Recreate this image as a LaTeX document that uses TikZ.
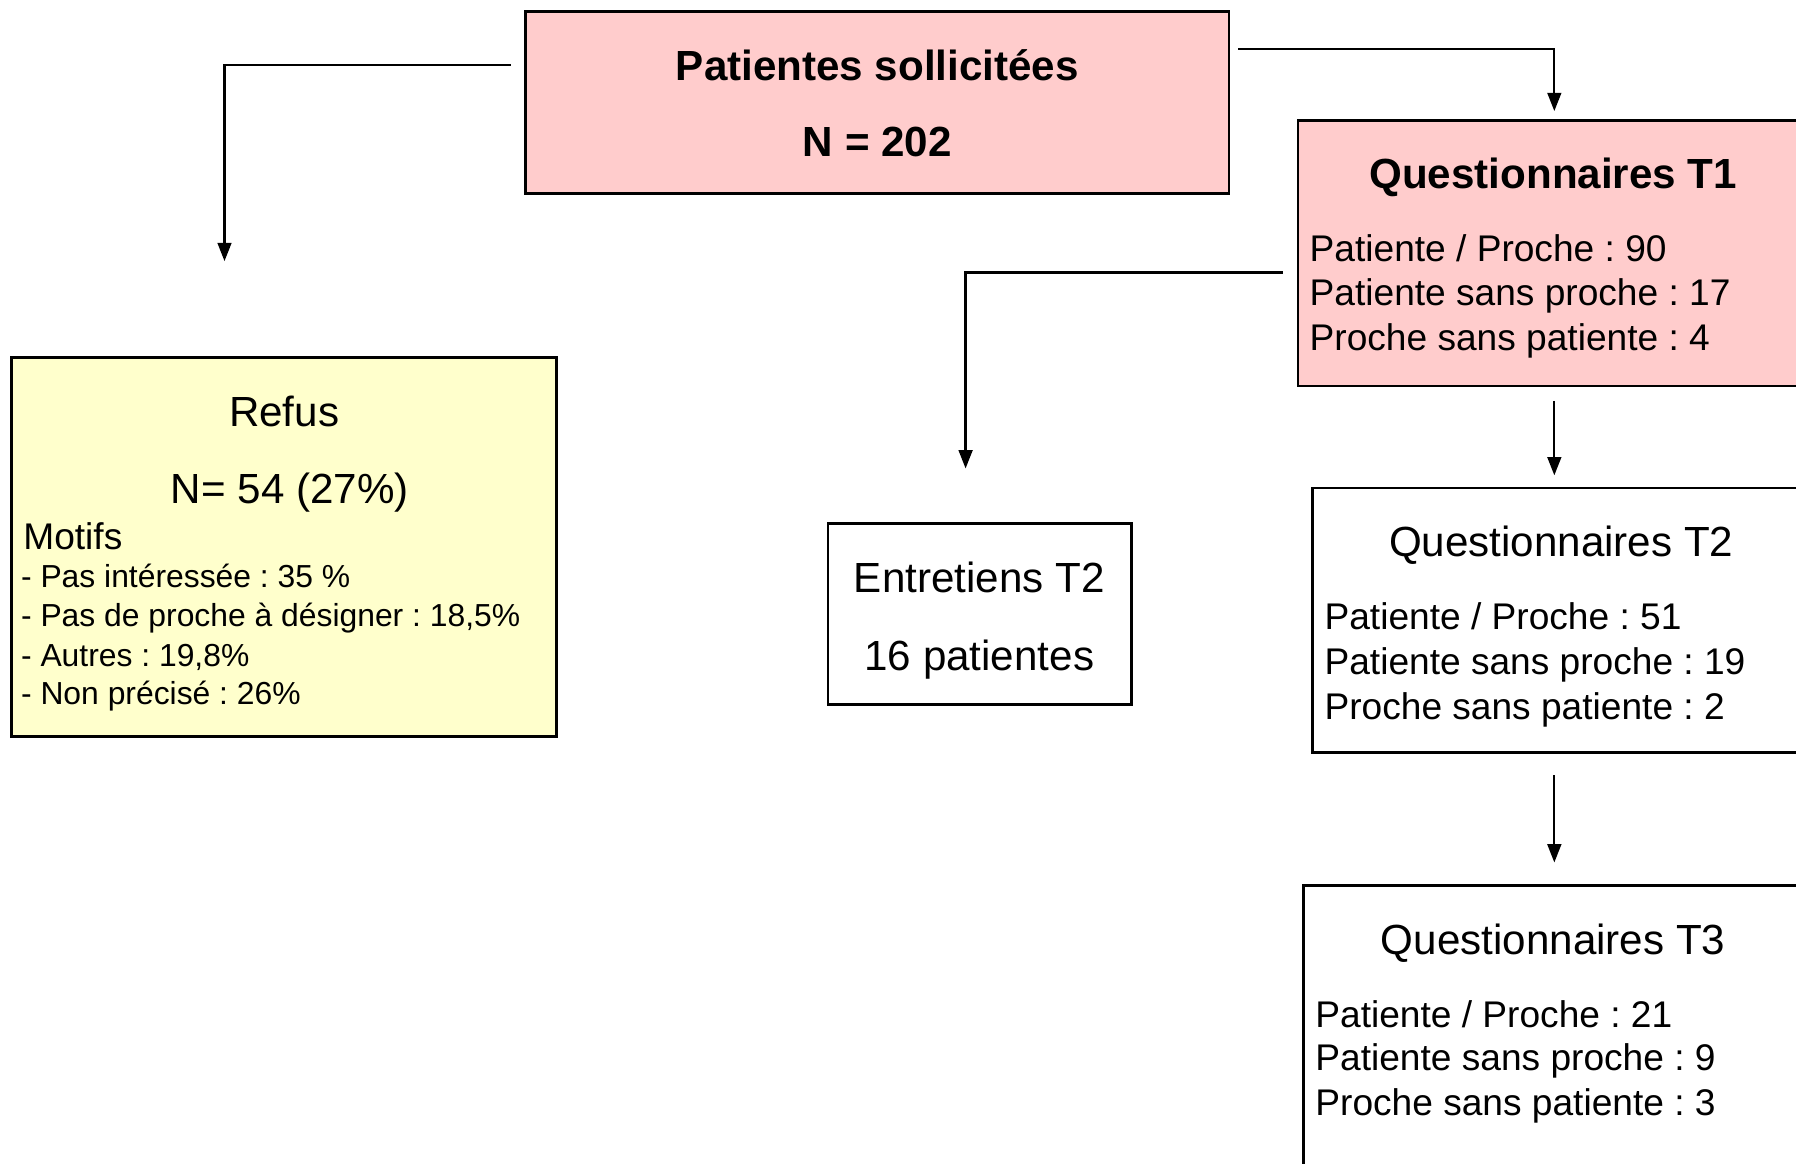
\documentclass[tikz,border=0pt]{standalone}
\usepackage{fontspec}
\setmainfont{Liberation Sans}
\usetikzlibrary{arrows.meta,fit}
\frenchspacing
\definecolor{pinkfill}{HTML}{FFCCCC}
\definecolor{yellowfill}{HTML}{FFFFCC}
\tikzset{
  box/.style={draw=black, line width=1.1pt, inner sep=0pt},
  conn/.style={line width=1pt, -{Triangle[length=8pt,width=6pt]}},
  bigb/.style={font=\fontsize{18.4}{22}\selectfont\bfseries, inner sep=0pt, anchor=base},
  bigr/.style={font=\fontsize{18.4}{22}\selectfont, inner sep=0pt, anchor=base},
  det/.style={font=\fontsize{16.2}{19}\selectfont, inner sep=0pt, anchor=base west},
  sml/.style={font=\fontsize{13.9}{17}\selectfont, inner sep=0pt, anchor=base west}
}
\begin{document}
\begin{tikzpicture}[x=0.5pt,y=-0.5pt]
\useasboundingbox (0,0) rectangle (1568,1016);
% boxes
\node[box, fill=pinkfill, fit={(459,10) (1073,169)}] (top) {};
\node[box, fill=pinkfill, fit={(1133,105) (1600,337)}] (t1) {};
\node[box, fill=yellowfill, fit={(10,312) (486,643)}] (refus) {};
\node[box, fill=white, fit={(723,457) (988,615)}] (ent) {};
\node[box, fill=white, fit={(1146,426) (1600,657)}] (t2) {};
\node[box, fill=white, fit={(1138,773) (1600,1040)}] (t3) {};
% texts top
\node[bigb] (topa) at (766,70) {Patientes sollicitées};
\node[bigb] (topb) at (766,137) {N = 202};
% T1
\node[bigb] (t1a) at (1356,165) {Questionnaires T1};
\node[det] (t1b) at (1143,228) {Patiente / Proche : 90};
\node[det] (t1c) at (1143,267) {Patiente sans proche : 17};
\node[det] (t1d) at (1143,306) {Proche sans patiente : 4};
% Refus
\node[bigr] (ra) at (248,372) {Refus};
\node[bigr] (rb) at (253,440) {N= 54 (27\%)};
\node[det] (rc) at (20,480) {Motifs};
\node[sml] (rd) at (18,513) {- Pas intéressée : 35 \%};
\node[sml] (re) at (18,547) {- Pas de proche à désigner : 18,5\%};
\node[sml] (rf) at (18,582) {- Autres : 19,8\%};
\node[sml] (rg) at (18,615) {- Non précisé : 26\%};
% Entretiens
\node[bigr] (ea) at (855,517) {Entretiens T2};
\node[bigr] (eb) at (855,585) {16 patientes};
% T2
\node[bigr] (t2a) at (1363,486) {Questionnaires T2};
\node[det] (t2b) at (1156,550) {Patiente / Proche : 51};
\node[det] (t2c) at (1156,589) {Patiente sans proche : 19};
\node[det] (t2d) at (1156,628) {Proche sans patiente : 2};
% T3
\node[bigr] (t3a) at (1356,833) {Questionnaires T3};
\node[det] (t3b) at (1148,897) {Patiente / Proche : 21};
\node[det] (t3c) at (1148,935) {Patiente sans proche : 9};
\node[det] (t3d) at (1148,974) {Proche sans patiente : 3};
% connector ends
\coordinate (c1s) at (446,57);
\coordinate (c1e) at (196,228);
\coordinate (c2s) at (1081,43);
\coordinate (c2e) at (1357,97);
\coordinate (c3s) at (1120,238);
\coordinate (c3e) at (843,409);
\coordinate (c4s) at (1357,350);
\coordinate (c4e) at (1357,415);
\coordinate (c5s) at (1357,677);
\coordinate (c5e) at (1357,753);
\draw[conn] (c1s) -| (c1e);
\draw[conn] (c2s) -| (c2e);
\draw[conn] (c3s) -| (c3e);
\draw[conn] (c4s) -- (c4e);
\draw[conn] (c5s) -- (c5e);
\end{tikzpicture}
\end{document}
